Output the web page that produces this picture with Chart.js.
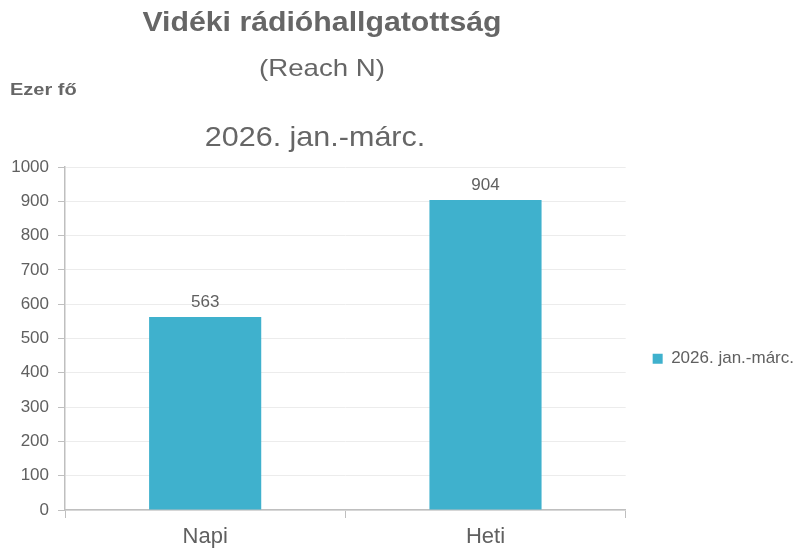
<!DOCTYPE html>
<html>
<head>
<meta charset="utf-8">
<script src="https://cdn.jsdelivr.net/npm/chart.js@4/dist/chart.umd.min.js"></script>
<style>
  html, body { margin: 0; padding: 0; background: #fff; }
  #wrap { position: relative; width: 793px; height: 552px; font-family: "Liberation Sans", Arial, sans-serif; color: #666666; }
  #wrap canvas { position: absolute; left: 0; top: 0; }
  .txt { position: absolute; white-space: nowrap; line-height: 1; }
  #t1 { left: 322px; top: 8px; transform: translateX(-50%) scaleX(1.08); font-size: 28px; font-weight: bold; }
  #t2 { left: 322px; top: 56px; transform: translateX(-50%) scaleX(1.15); font-size: 24px; }
  #unit { left: 10px; top: 82px; transform-origin: 0 0; transform: scaleX(1.25); font-size: 16px; font-weight: bold; }
  #t3 { left: 315px; top: 123px; transform: translateX(-50%) scaleX(1.09); font-size: 28px; }
</style>
</head>
<body>
<div id="wrap">
  <canvas id="radioChart" width="793" height="552"></canvas>
  <div class="txt" id="t1">Vidéki rádióhallgatottság</div>
  <div class="txt" id="t2">(Reach N)</div>
  <div class="txt" id="unit">Ezer fő</div>
  <div class="txt" id="t3">2026. jan.-márc.</div>
</div>
<script>
// Chart data
const categories = ['Napi', 'Heti'];
const seriesName = '2026. jan.-márc.';
const reachValues = [563, 904];
const yTicks = [0, 100, 200, 300, 400, 500, 600, 700, 800, 900, 1000];

const textColor = '#606060';
const barColor = '#3FB1CD';
const fontFamily = '"Liberation Sans", Arial, sans-serif';

// value labels above each bar
const valueLabels = {
    id: 'valueLabels',
    afterDatasetsDraw(chart) {
        const ctx = chart.ctx;
        const meta = chart.getDatasetMeta(0);
        ctx.save();
        ctx.font = '17px ' + fontFamily;
        ctx.fillStyle = textColor;
        ctx.textAlign = 'center';
        ctx.textBaseline = 'bottom';
        meta.data.forEach((bar, i) => {
            ctx.fillText(String(chart.data.datasets[0].data[i]), bar.x, bar.y - 6);
        });
        ctx.restore();
    }
};

new Chart(document.getElementById('radioChart'), {
    type: 'bar',
    data: {
        labels: categories,
        datasets: [{
            label: seriesName,
            data: reachValues,
            backgroundColor: barColor,
            borderWidth: 0,
            barPercentage: 0.4,
            categoryPercentage: 1.0,
        }]
    },
    options: {
        responsive: false,
        animation: false,
        layout: { padding: { top: 167, left: 0, right: -11, bottom: 1.5 } },
        plugins: {
            legend: {
                position: 'right',
                labels: {
                    boxWidth: 10,
                    boxHeight: 10,
                    padding: 27,
                    color: textColor,
                    font: { family: fontFamily, size: 17 },
                },
            },
            tooltip: { enabled: false },
        },
        scales: {
            x: {
                afterFit(scale) {
                    scale.height = 40.5;
                },
                grid: {
                    display: true,
                    drawOnChartArea: false,
                    offset: true,
                    tickColor: '#bfbfbf',
                    tickLength: 8,
                },
                border: { color: '#bfbfbf', width: 1.5 },
                ticks: {
                    color: textColor,
                    padding: 6,
                    font: { family: fontFamily, size: 22 },
                },
            },
            y: {
                min: 0,
                max: 1000,
                afterBuildTicks(scale) {
                    scale.ticks = yTicks.map(v => ({ value: v }));
                },
                afterFit(scale) {
                    scale.width = 65;
                },
                grid: {
                    color: '#ececec',
                    tickColor: '#bfbfbf',
                    tickLength: 7,
                },
                border: { color: '#bfbfbf', width: 1.5 },
                ticks: {
                    color: textColor,
                    padding: 9,
                    font: { family: fontFamily, size: 17 },
                    callback: (v) => String(v),
                },
            },
        },
    },
    plugins: [valueLabels]
});
</script>
</body>
</html>
